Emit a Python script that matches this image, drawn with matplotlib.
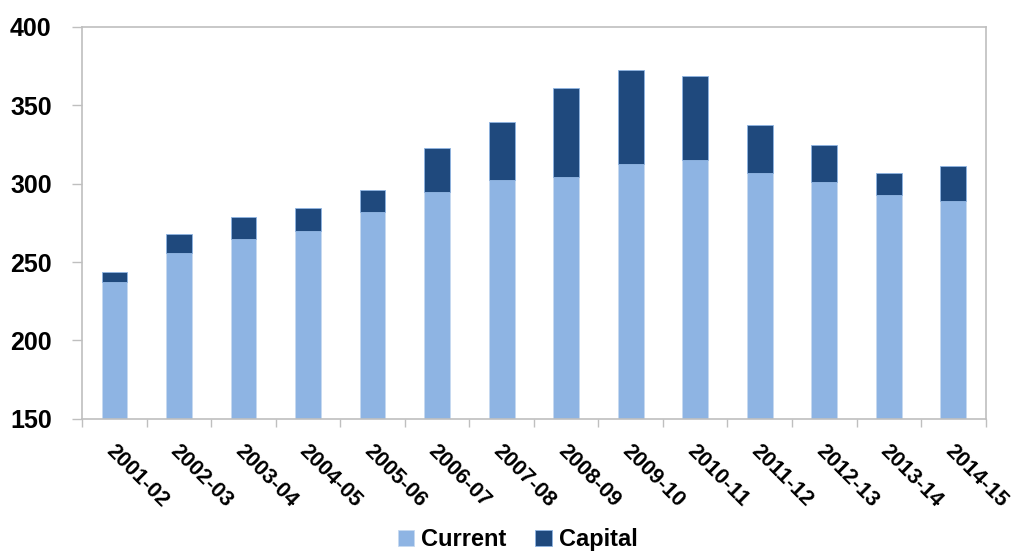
import matplotlib
matplotlib.use("Agg")
import matplotlib.pyplot as plt
import numpy as np
from matplotlib.font_manager import fontManager

# data
years = ["2001-02", "2002-03", "2003-04", "2004-05", "2005-06", "2006-07", "2007-08",
         "2008-09", "2009-10", "2010-11", "2011-12", "2012-13", "2013-14", "2014-15"]
current = [237.5, 255.5, 264.5, 270, 282, 294.5, 302.5, 304, 312.5, 315, 307, 301, 293, 289]
total = [243.5, 268, 279, 284.5, 296, 322.5, 339.5, 361, 372.5, 369, 337.5, 325, 307, 311]
capital = [t - c for t, c in zip(total, current)]

names = {f.name for f in fontManager.ttflist}
fam = "Liberation Sans Narrow" if "Liberation Sans Narrow" in names else "Liberation Sans"
plt.rcParams['font.family'] = [fam, 'DejaVu Sans']
plt.rcParams['font.weight'] = 'bold'

fig = plt.figure(figsize=(10.15, 5.51), dpi=100)
ax = fig.add_axes([0.081, 0.24, 0.89, 0.711])

x = np.arange(len(years))
ax.bar(x, current, width=0.4, bottom=0, color="#8EB4E3", edgecolor="#C6D9F1", linewidth=0.6, label="Current")
ax.bar(x, capital, width=0.4, bottom=current, color="#1F497D", edgecolor="#8EB4E3", linewidth=0.6, label="Capital")

ax.set_ylim(150, 400)
ax.set_xlim(-0.5, len(years) - 0.5)
ax.set_yticks([150, 200, 250, 300, 350, 400])
ax.tick_params(axis='y', labelsize=18, length=7, color="#BFBFBF", width=1, pad=15)

# category boundary ticks on the x axis
ax.set_xticks(np.arange(-0.5, len(years)))
ax.set_xticklabels([])
ax.tick_params(axis='x', length=6, color="#BFBFBF", width=1)
for i, lab in enumerate(years):
    ax.text(i + 0.03, 136, lab, rotation=-45, rotation_mode='anchor', ha='left', va='top',
            fontsize=15.5, fontweight='bold', clip_on=False)

for s in ax.spines.values():
    s.set_color("#BFBFBF")
    s.set_linewidth(1.2)

fig.legend(loc='center', bbox_to_anchor=(0.51, 0.02), ncol=2, frameon=False,
           prop={'size': 17, 'weight': 'bold'}, handlelength=0.7, handleheight=0.7,
           handletextpad=0.3, columnspacing=1.2)

fig.savefig("out.png", dpi=100)
